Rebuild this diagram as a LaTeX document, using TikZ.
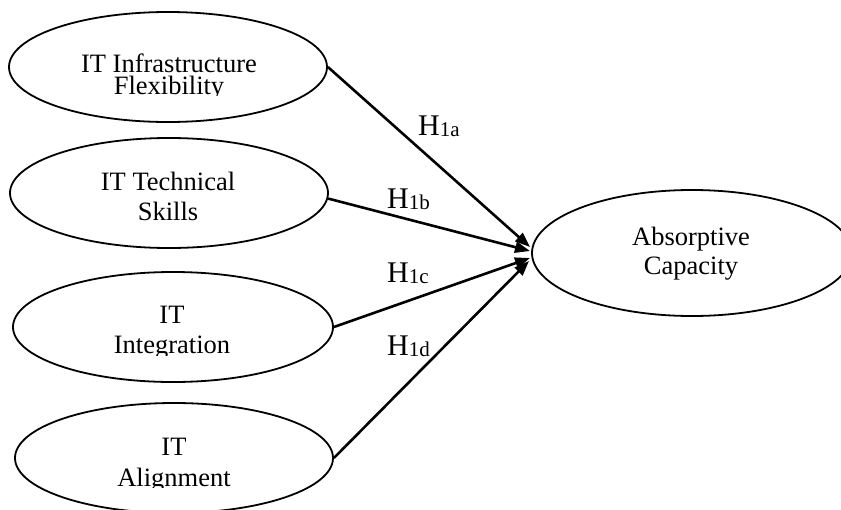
\documentclass[tikz,border=0pt]{standalone}
\usepackage{fontspec}
\setmainfont{Liberation Serif}
\usetikzlibrary{shapes.geometric,arrows.meta}
\newcommand{\hyplabel}[1]{{\fontsize{30}{34}\selectfont H}{\fontsize{21}{24}\selectfont\raisebox{-1.5pt}{#1}}}
\begin{document}
\begin{tikzpicture}[x=1pt,y=-1pt,
  construct/.style={draw, ellipse, line width=1.8pt, inner sep=0pt},
  linetext/.style={anchor=base, inner sep=0pt, font=\fontsize{26.5}{30}\selectfont},
  link/.style={line width=2.6pt, -{Triangle[length=15pt,width=11pt]}},
  hyp/.style={anchor=base west, inner sep=0pt}]
\useasboundingbox (0,0) rectangle (841,509);

% constructs
\node[construct, minimum width=318pt, minimum height=110pt] (e1) at (168,67) {};
\node[construct, minimum width=318pt, minimum height=110pt] (e2) at (169,193) {};
\node[construct, minimum width=320pt, minimum height=110pt] (e3) at (173,327) {};
\node[construct, minimum width=318pt, minimum height=110pt] (e4) at (174,458) {};
\node[construct, minimum width=320pt, minimum height=126pt] (e5) at (692,253) {};

% construct names
\node[linetext] (t1a) at (169,72) {IT Infrastructure};
\begin{scope}
  \clip (0,0) rectangle (841,95.3);
  \node[linetext] (t1b) at (169,94) {Flexibility};
\end{scope}
\node[linetext] (t2a) at (168,190) {IT Technical};
\node[linetext] (t2b) at (168,220) {Skills};
\node[linetext] (t3a) at (172,323) {IT};
\begin{scope}
  \clip (0,0) rectangle (841,355.7);
  \node[linetext] (t3b) at (172,353) {Integration};
\end{scope}
\node[linetext] (t4a) at (174,455) {IT};
\begin{scope}
  \clip (0,0) rectangle (841,487.5);
  \node[linetext] (t4b) at (174,486) {Alignment};
\end{scope}
\node[linetext] (t5a) at (691,245) {Absorptive};
\node[linetext] (t5b) at (691,274) {Capacity};

% arrow tips at the dependent construct
\coordinate (ta) at (530,247);
\coordinate (tb) at (530,251);
\coordinate (tc) at (530,258);
\coordinate (td) at (529,261);

\draw[link] (e1.east) -- (ta);
\draw[link] (e2.-2.5) -- (tb);
\draw[link] (e3.east) -- (tc);
\draw[link] (e4.east) -- (td);

% hypothesis labels
\node[hyp] (ha) at (418,135) {\hyplabel{1a}};
\node[hyp] (hb) at (387,208) {\hyplabel{1b}};
\node[hyp] (hc) at (387,282) {\hyplabel{1c}};
\node[hyp] (hd) at (387,355) {\hyplabel{1d}};
\end{tikzpicture}
\end{document}
